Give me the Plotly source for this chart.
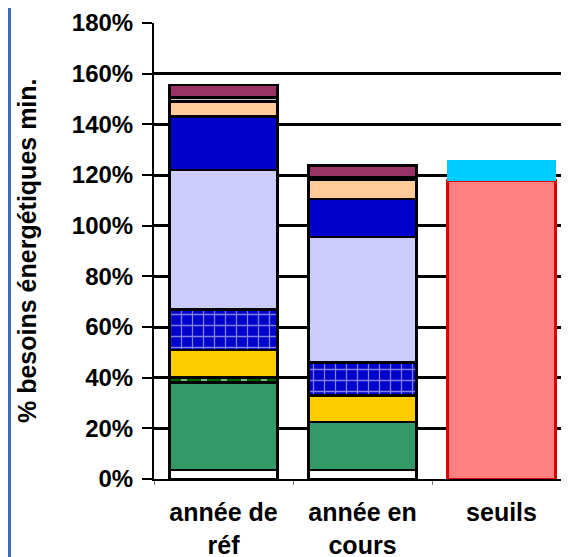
import plotly.graph_objects as go

categories = ["année de<br>réf", "année en<br>cours", "seuils"]
tick_vals = [0, 20, 40, 60, 80, 100, 120, 140, 160, 180]
tick_text = ["0%", "20%", "40%", "60%", "80%", "100%", "120%", "140%", "160%", "180%"]

# stacked segments, bottom to top (% of minimum energy needs); None = no segment
base_white = [3.5, 3.5, None]
green = [34.5, 19, None]
green_dashed = [2, None, None]
yellow = [11, 10.5, None]
blue_grid = [16, 13, None]
lavender = [55, 49.5, None]
blue = [21, 15, None]
peach = [6, 7.5, None]
gray = [1.5, 1, None]
purple = [5, 4.8, None]
seuil_base = [None, None, 117.8]
seuil_top = [None, None, 8.2]

FONT = "Liberation Sans, Arial, sans-serif"

fig = go.Figure()


def add_seg(values, color, line_color="black", line_width=2.5, pattern=None):
    marker = dict(color=color, line=dict(color=line_color, width=line_width))
    if pattern:
        marker["pattern"] = pattern
    fig.add_trace(go.Bar(x=categories, y=values, marker=marker, showlegend=False))


add_seg(base_white, "white")
add_seg(green, "#339966")
add_seg(green_dashed, "#006600",
        pattern=dict(shape="|", fgcolor="white", bgcolor="#006600",
                     size=20, solidity=0.3, fillmode="overlay"))
add_seg(yellow, "#ffcc00")
add_seg(blue_grid, "#0000cc",
        pattern=dict(shape="+", fgcolor="white", bgcolor="#0000cc",
                     size=11, solidity=0.22, fillmode="overlay"))
add_seg(lavender, "#ccccff")
add_seg(blue, "#0000cc")
add_seg(peach, "#ffcc99")
add_seg(gray, "#c0c0c0")
add_seg(purple, "#993366")
add_seg(seuil_base, "#ff8080", line_color="#dd0000")
add_seg(seuil_top, "#00ccff", line_width=0)

fig.update_layout(
    barmode="stack",
    bargap=0.22,
    width=569,
    height=557,
    margin=dict(l=146, r=0, t=15, b=86),
    plot_bgcolor="white",
    paper_bgcolor="white",
    font=dict(family=FONT, color="black"),
    shapes=[
        dict(type="line", xref="paper", yref="paper",
             x0=-144.5 / 423, x1=-144.5 / 423, y0=-0.2, y1=1.1,
             line=dict(color="#3a6fc0", width=3)),
    ],
    annotations=[
        dict(text="% besoins énergétiques min.", xref="paper", yref="paper",
             x=-127 / 423, y=0.5, xanchor="center", yanchor="middle",
             textangle=-90, showarrow=False,
             font=dict(size=25, weight="bold")),
    ],
)
fig.update_xaxes(
    range=[-0.5, 2.543],
    automargin=False,
    showline=True, linecolor="black", linewidth=2,
    ticks="outside", tickson="boundaries", ticklen=4, tickcolor="#777777",
    ticklabelstandoff=10,
    tickfont=dict(size=25, weight="bold"),
    showgrid=False,
)
fig.update_yaxes(
    range=[0, 180],
    automargin=False,
    tickvals=tick_vals, ticktext=tick_text,
    showline=True, linecolor="black", linewidth=2,
    ticks="outside", ticklen=10, tickcolor="black", tickwidth=2,
    ticklabelstandoff=4,
    tickfont=dict(size=24, weight="bold"),
    showgrid=True, gridcolor="black", gridwidth=3,
    zeroline=False,
)

fig.write_html("out.html")
